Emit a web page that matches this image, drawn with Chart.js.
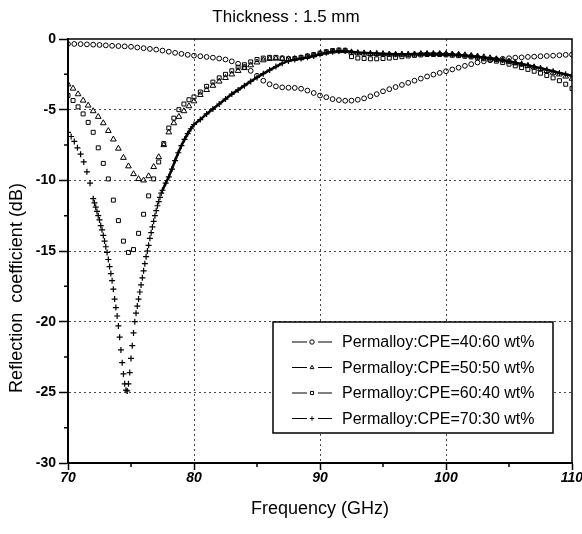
<!DOCTYPE html>
<html>
<head>
<meta charset="utf-8">
<title>Thickness : 1.5 mm</title>
<script src="https://cdn.jsdelivr.net/npm/chart.js@4.4.0/dist/chart.umd.min.js"></script>
<style>
    html, body { margin: 0; padding: 0; background: #fff; }
    #wrap { width: 582px; height: 534px; }
</style>
</head>
<body>
<div id="wrap"><canvas id="myChart" width="582" height="534"></canvas></div>
<script>
'use strict';

// sampling grid of the measurement (GHz)
function freqGrid(start, step, count) {
    var out = [];
    for (var i = 0; i < count; i++) {
        out.push(Math.round((start + i * step) * 100) / 100);
    }
    return out;
}

var seriesLabels = [
    'Permalloy:CPE=40:60 wt%',
    'Permalloy:CPE=50:50 wt%',
    'Permalloy:CPE=60:40 wt%',
    'Permalloy:CPE=70:30 wt%'
];

var freq1 = freqGrid(70, 0.5, 81);
var freq23 = freqGrid(70, 0.4, 25).concat(freqGrid(80, 0.5, 61));
var freq4 = freqGrid(70, 0.25, 8).concat(freqGrid(72, 0.1, 55), freqGrid(77.5, 0.25, 10), freqGrid(80, 0.5, 61));

// reflection coefficient (dB)
var db4060 = [
    -0.35, -0.35, -0.36, -0.38, -0.4, -0.42, -0.45, -0.48, -0.5, -0.52,
    -0.55, -0.6, -0.65, -0.7, -0.75, -0.82, -0.9, -0.98, -1.05, -1.12,
    -1.18, -1.22, -1.27, -1.32, -1.38, -1.45, -1.58, -1.75, -1.98, -2.25,
    -2.6, -2.95, -3.2, -3.35, -3.42, -3.45, -3.46, -3.52, -3.65, -3.82,
    -4.0, -4.12, -4.25, -4.32, -4.37, -4.36, -4.3, -4.2, -4.05, -3.9,
    -3.7, -3.55, -3.4, -3.25, -3.1, -2.95, -2.8, -2.65, -2.52, -2.4,
    -2.28, -2.15, -2.03, -1.9, -1.78, -1.66, -1.58, -1.5, -1.45, -1.4,
    -1.36, -1.32, -1.3, -1.27, -1.25, -1.22, -1.2, -1.18, -1.15, -1.12,
    -1.1
];

var db5050 = [
    -3.2, -3.5, -3.9, -4.35, -4.7, -5.1, -5.5, -5.95, -6.5, -7.1,
    -7.75, -8.4, -9.0, -9.55, -9.9, -10.0, -9.7, -9.05, -8.35, -7.5,
    -6.6, -5.95, -5.5, -5.1, -4.75,
    -4.4, -3.95, -3.6, -3.3, -3.0, -2.75, -2.5, -2.25, -2.05, -1.85,
    -1.65, -1.5, -1.4, -1.38, -1.4, -1.42, -1.4, -1.35, -1.25, -1.15,
    -1.05, -0.95, -0.88, -0.85, -0.85, -0.95, -1.0, -1.02, -1.05, -1.05,
    -1.06, -1.08, -1.1, -1.1, -1.1, -1.08, -1.06, -1.05, -1.05, -1.05,
    -1.06, -1.08, -1.1, -1.14, -1.18, -1.23, -1.28, -1.35, -1.42, -1.5,
    -1.6, -1.7, -1.8, -1.9, -2.0, -2.12, -2.25, -2.38, -2.5, -2.65,
    -2.8
];

var db6040 = [
    -4.0, -4.35, -4.8, -5.3, -5.9, -6.6, -7.7, -8.8, -9.9, -11.4,
    -12.85, -14.3, -15.1, -14.9, -13.75, -12.4, -11.1, -9.9, -8.7, -7.4,
    -6.3, -5.6, -5.0, -4.6, -4.3,
    -4.1, -3.75, -3.35, -3.05, -2.75, -2.5, -2.25, -2.0, -1.82, -1.62,
    -1.45, -1.35, -1.3, -1.3, -1.35, -1.4, -1.38, -1.3, -1.2, -1.1,
    -1.0, -0.9, -0.82, -0.78, -0.8, -1.25, -1.35, -1.38, -1.4, -1.4,
    -1.38, -1.35, -1.3, -1.25, -1.2, -1.16, -1.13, -1.1, -1.1, -1.1,
    -1.12, -1.15, -1.18, -1.22, -1.27, -1.33, -1.4, -1.48, -1.57, -1.67,
    -1.78, -1.9, -2.02, -2.15, -2.28, -2.42, -2.58, -2.75, -2.95, -3.2,
    -3.5
];

var db7030 = [
    -6.6, -6.9, -7.25, -7.7, -8.15, -8.7, -9.4, -10.2,
    -11.3, -11.6, -11.9, -12.2, -12.5, -12.8, -13.2, -13.5, -13.9, -14.3,
    -14.7, -15.1, -15.6, -16.1, -16.6, -17.1, -17.7, -18.4, -19.0, -19.6,
    -20.3, -21.1, -22.0, -22.9, -23.7, -24.4, -24.85, -24.9, -24.4, -23.6,
    -22.6, -21.7, -20.8, -20.0, -19.4, -18.9, -18.4, -17.9, -17.4, -16.9,
    -16.4, -15.9, -15.4, -15.0, -14.6, -14.1, -13.7, -13.3, -12.9, -12.5,
    -12.15, -11.8, -11.5, -11.2, -10.9,
    -10.7, -10.2, -9.75, -9.2, -8.6, -8.05, -7.55, -7.1, -6.7, -6.35,
    -6.05, -5.7, -5.3, -4.95, -4.6, -4.25, -3.9, -3.6, -3.3, -3.0, -2.72,
    -2.45, -2.2, -1.95, -1.72, -1.55, -1.45, -1.38, -1.3, -1.2, -1.08,
    -0.98, -0.9, -0.86, -0.85, -0.9, -0.95, -0.98, -1.0, -1.02, -1.04,
    -1.06, -1.08, -1.08, -1.08, -1.06, -1.05, -1.05, -1.05, -1.06, -1.08,
    -1.1, -1.13, -1.16, -1.2, -1.25, -1.3, -1.36, -1.42, -1.5, -1.58,
    -1.67, -1.76, -1.86, -1.96, -2.06, -2.17, -2.28, -2.4, -2.5, -2.6
];

var xTickLabels = [70, 80, 90, 100, 110];
var yTickLabels = [0, -5, -10, -15, -20, -25, -30];

var FONT = "'Liberation Sans', Arial, Helvetica, sans-serif";

function toPoints(xs, ys) {
    return xs.map(function (x, i) {
        return {x: x, y: ys[i]};
    });
}

function isLabelled(labels, c) {
    return c.tick && labels.indexOf(c.tick.value) >= 0;
}

// dotted grid only on labelled interior ticks
function gridColor(labels, min, max) {
    return function (c) {
        if (!isLabelled(labels, c) || c.tick.value === min || c.tick.value === max) {
            return 'rgba(0,0,0,0)';
        }
        return '#4a4a4a';
    };
}

function tickColor(labels) {
    return function (c) {
        return isLabelled(labels, c) ? '#000' : 'rgba(0,0,0,0)';
    };
}

var extras = {
    id: 'extras',
    afterDraw: function (chart) {
        var ctx = chart.ctx;
        var a = chart.chartArea;
        var sx = chart.scales.x, sy = chart.scales.y;

        ctx.save();
        ctx.strokeStyle = '#000';
        ctx.lineWidth = 1.5;
        ctx.beginPath();
        // top and right frame
        ctx.moveTo(a.left, a.top);
        ctx.lineTo(a.right, a.top);
        ctx.lineTo(a.right, a.bottom);
        // short minor ticks
        sx.ticks.forEach(function (t) {
            if (xTickLabels.indexOf(t.value) < 0) {
                var px = sx.getPixelForValue(t.value);
                ctx.moveTo(px, a.bottom);
                ctx.lineTo(px, a.bottom + 4);
            }
        });
        sy.ticks.forEach(function (t) {
            if (yTickLabels.indexOf(t.value) < 0) {
                var py = sy.getPixelForValue(t.value);
                ctx.moveTo(a.left, py);
                ctx.lineTo(a.left - 4, py);
            }
        });
        ctx.stroke();
        ctx.restore();

        // y axis title (sits lower than centre in the original)
        ctx.save();
        ctx.translate(17, a.top + 249);
        ctx.rotate(-Math.PI / 2);
        ctx.font = '18px ' + FONT;
        ctx.fillStyle = '#000';
        ctx.textAlign = 'center';
        ctx.textBaseline = 'middle';
        ctx.fillText('Reflection  coefficient (dB)', 0, 0);
        ctx.restore();

        // legend box in the lower right corner
        var bx = a.right - 299, by = a.top + 283, bw = 280, bh = 111;
        ctx.save();
        ctx.fillStyle = '#fff';
        ctx.fillRect(bx, by, bw, bh);
        ctx.strokeStyle = '#000';
        ctx.lineWidth = 1.5;
        ctx.strokeRect(bx, by, bw, bh);
        ctx.font = '16px ' + FONT;
        ctx.textAlign = 'left';
        ctx.textBaseline = 'middle';
        chart.data.datasets.forEach(function (ds, i) {
            var y = by + 20 + i * 25.5;
            var mx = bx + 39;
            ctx.strokeStyle = '#000';
            ctx.lineWidth = 1.2;
            ctx.beginPath();
            ctx.moveTo(bx + 19, y);
            ctx.lineTo(mx - 5, y);
            ctx.moveTo(mx + 6, y);
            ctx.lineTo(mx + 20, y);
            ctx.stroke();
            ctx.fillStyle = '#fff';
            ctx.lineWidth = 1;
            Chart.helpers.drawPoint(ctx, {
                pointStyle: ds.pointStyle,
                radius: 2.2,
                rotation: 0,
                borderWidth: 1
            }, mx, y);
            ctx.fillStyle = '#000';
            ctx.fillText(ds.label, bx + 69, y + 1);
        });
        ctx.restore();
    }
};

var ctx = document.getElementById('myChart');
var myChart = new Chart(ctx, {
    type: 'scatter',
    data: {
        datasets: [{
                label: seriesLabels[0],
                data: toPoints(freq1, db4060),
                pointStyle: 'circle',
                pointRadius: 2.4,
                pointBorderWidth: 1,
                pointBorderColor: '#000',
                pointBackgroundColor: 'rgba(0,0,0,0)',
                showLine: false
            }, {
                label: seriesLabels[1],
                data: toPoints(freq23, db5050),
                pointStyle: 'triangle',
                pointRadius: 3.3,
                pointBorderWidth: 1,
                pointBorderColor: '#000',
                pointBackgroundColor: 'rgba(0,0,0,0)',
                showLine: false
            }, {
                label: seriesLabels[2],
                data: toPoints(freq23, db6040),
                pointStyle: 'rect',
                pointRadius: 2.8,
                pointBorderWidth: 1,
                pointBorderColor: '#000',
                pointBackgroundColor: 'rgba(0,0,0,0)',
                showLine: false
            }, {
                label: seriesLabels[3],
                data: toPoints(freq4, db7030),
                pointStyle: 'cross',
                pointRadius: 3,
                pointBorderWidth: 1.2,
                pointBorderColor: '#000',
                borderColor: '#000',
                borderWidth: 2.5,
                showLine: true,
                segment: {
                    borderColor: function (c) {
                        return c.p0.parsed.x < 77.5 ? 'rgba(0,0,0,0)' : '#000';
                    }
                }
            }
        ]
    },
    options: {
        responsive: false,
        animation: false,
        devicePixelRatio: 1,
        layout: {padding: {left: 0, right: 10, top: 0, bottom: 0}},
        plugins: {
            legend: {display: false},
            tooltip: {enabled: false},
            title: {
                display: true,
                text: 'Thickness : 1.5 mm',
                color: '#000',
                font: {family: FONT, size: 17, weight: 'normal', lineHeight: 1},
                padding: {top: 9, bottom: 13}
            }
        },
        scales: {
            x: {
                type: 'linear',
                position: 'bottom',
                min: 70,
                max: 110,
                ticks: {
                    stepSize: 5,
                    autoSkip: false,
                    maxRotation: 0,
                    padding: 0,
                    color: '#000',
                    font: {family: FONT, size: 14, weight: 'bold', style: 'italic'},
                    callback: function (v) {
                        return xTickLabels.indexOf(v) >= 0 ? String(v) : '';
                    }
                },
                grid: {
                    color: gridColor(xTickLabels, 70, 110),
                    lineWidth: 1,
                    tickColor: tickColor(xTickLabels),
                    tickLength: 7,
                    tickWidth: 1.5
                },
                border: {display: true, color: '#000', width: 2, dash: [2, 3]},
                title: {
                    display: true,
                    text: 'Frequency (GHz)',
                    color: '#000',
                    font: {family: FONT, size: 18},
                    padding: {top: 0, bottom: 14}
                },
                afterFit: function (s) {
                    s.height = 71;
                    s.paddingLeft = 0;
                    s.paddingRight = 0;
                }
            },
            y: {
                type: 'linear',
                min: -30,
                max: 0,
                ticks: {
                    stepSize: 2.5,
                    autoSkip: false,
                    padding: 3,
                    color: '#000',
                    font: {family: FONT, size: 14, weight: 'bold'},
                    callback: function (v) {
                        return yTickLabels.indexOf(v) >= 0 ? String(v) : '';
                    }
                },
                grid: {
                    color: gridColor(yTickLabels, -30, 0),
                    lineWidth: 1,
                    tickColor: tickColor(yTickLabels),
                    tickLength: 9,
                    tickWidth: 1.5
                },
                border: {display: true, color: '#000', width: 2, dash: [2, 3]},
                afterFit: function (s) {
                    s.width = 68;
                }
            }
        }
    },
    plugins: [extras]
});
</script>
</body>
</html>
